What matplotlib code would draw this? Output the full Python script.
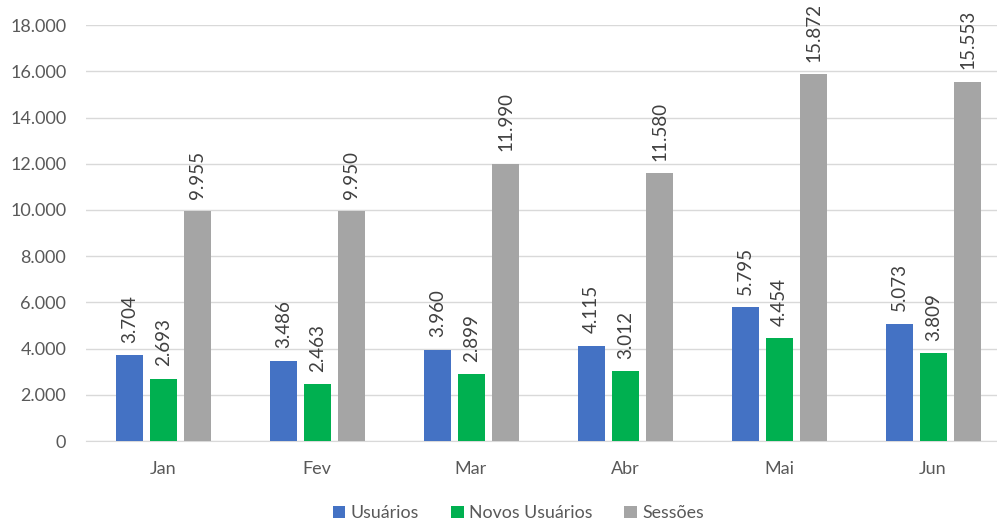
import matplotlib
matplotlib.use("Agg")
import matplotlib.pyplot as plt
import numpy as np

months = ["Jan", "Fev", "Mar", "Abr", "Mai", "Jun"]
usuarios = [3704, 3486, 3960, 4115, 5795, 5073]
novos = [2693, 2463, 2899, 3012, 4454, 3809]
sessoes = [9955, 9950, 11990, 11580, 15872, 15553]
series_names = ["Usuários", "Novos Usuários", "Sessões"]
colors = ["#4472C4", "#00B050", "#A5A5A5"]

plt.rcParams['font.family'] = ['Lato', 'DejaVu Sans']
txt = "#595959"

fig = plt.figure(figsize=(9.97, 5.22), dpi=100)
ax = fig.add_axes([0.086, 0.155, 0.927, 0.797])

x = np.arange(len(months))
w = 0.175
offsets = [-0.215, 0.005, 0.225]
for data, off, col, name in zip([usuarios, novos, sessoes], offsets, colors, series_names):
    bars = ax.bar(x + off, data, w, color=col, label=name, zorder=3)
    for b, v in zip(bars, data):
        ax.annotate(f"{v:,}".replace(",", "."), (b.get_x() + b.get_width() / 2, v),
                    xytext=(0, 9), textcoords="offset points", rotation=90,
                    ha="center", va="bottom", fontsize=13.5, color="#404040")

ax.set_xlim(-0.5, 5.5)
ax.set_ylim(0, 18000)
ax.set_yticks(np.arange(0, 18001, 2000))
ax.set_yticklabels([f"{int(t):,}".replace(",", ".") for t in np.arange(0, 18001, 2000)])
ax.set_xticks(x)
ax.set_xticklabels(months)
ax.tick_params(axis="both", length=0, labelsize=13, colors=txt)
ax.tick_params(axis="y", pad=14)
ax.tick_params(axis="x", pad=14)
ax.grid(axis="y", color="#D9D9D9", linewidth=1, zorder=0)
for s in ["top", "right", "left"]:
    ax.spines[s].set_visible(False)
ax.spines["bottom"].set_color("#D9D9D9")

leg = fig.legend(loc="center", bbox_to_anchor=(0.52, 0.017), ncol=3, frameon=False,
                 fontsize=12.8, handlelength=0.7, handleheight=0.7, handletextpad=0.3,
                 columnspacing=1.8)
for t in leg.get_texts():
    t.set_color(txt)

fig.savefig("out.png", dpi=100)
